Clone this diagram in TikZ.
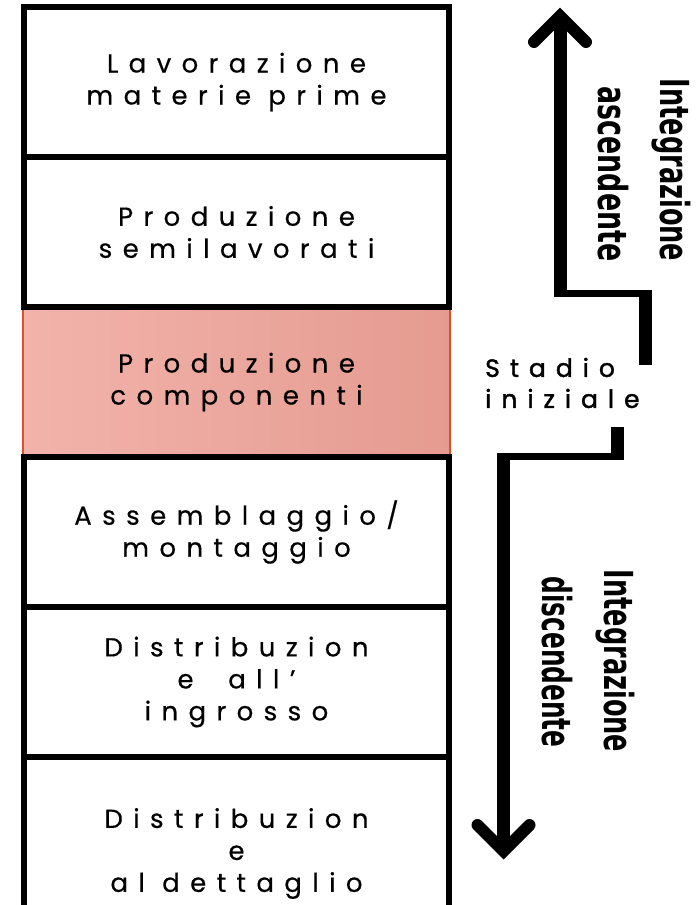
\documentclass[tikz,border=0pt]{standalone}
\usepackage{fontspec}
\usepackage{graphicx}
\newfontfamily\boxfont[LetterSpace=40,FakeBold=0.4]{Poppins}
\newfontfamily\stadiofont[LetterSpace=40,FakeBold=1.6]{Poppins}
\newfontfamily\rotfont{DejaVu Sans}
\definecolor{pinkL}{HTML}{F2B3AB}
\definecolor{pinkR}{HTML}{E59B90}
\definecolor{pinkEdge}{HTML}{D4532B}
\tikzset{
  stagebox/.style={draw=black, line width=6bp, minimum width=425bp, minimum height=150bp,
    inner sep=0pt, align=center, fill=white,
    font=\boxfont\fontsize{26bp}{32bp}\selectfont},
  pinkbox/.style={draw=pinkEdge, line width=2bp, minimum width=427bp, minimum height=148bp,
    inner sep=0pt, align=center, left color=pinkL, right color=pinkR,
    font=\boxfont\fontsize{26bp}{32bp}\selectfont},
  sidelbl/.style={align=left, anchor=west, inner sep=0pt, font=\stadiofont\fontsize{25bp}{31bp}\selectfont},
  rotlbl/.style={rotate=-90, anchor=base, inner sep=0pt, font=\rotfont\bfseries\fontsize{40bp}{48bp}\selectfont},
  vshaft/.style={line width=13bp, line cap=butt},
  hshaft/.style={line width=7bp, line cap=butt},
  barb/.style={line width=12bp, line cap=round, line join=miter},
}
\begin{document}
\begin{tikzpicture}[x=1bp, y=-1bp]
\clip (0,0) rectangle (700,905);
\fill[white] (0,0) rectangle (700,905);

% stages
\node[pinkbox] (b3) at (236.5,382) {Produzione\\componenti};
\node[stagebox] (b1) at (236.5,82) {Lavorazione\\materie prime};
\node[stagebox] (b2) at (236.5,232) {Produzione\\semilavorati};
\node[stagebox] (b4) at (236.5,532) {Assemblaggio/\\montaggio};
\node[stagebox] (b5) at (236.5,682) {Distribuzion\\e \ all’\\ingrosso};
\node[stagebox, minimum height=193bp] (b6) at (236.5,853.5) {Distribuzion\\e\\al dettaglio};

% start label
\node[sidelbl] (stadio) at (485,383) {Stadio\\iniziale};

% upward arrow
\coordinate (upStart) at (645,365);
\coordinate (upKneeA) at (645,290);
\coordinate (upHR) at (651.5,293.5);
\coordinate (upHL) at (553.5,293.5);
\coordinate (upKneeB) at (560,297);
\coordinate (upTip) at (560,16);
\coordinate (upArmL) at (534,42);
\coordinate (upArmR) at (586,42);
\draw[vshaft] (upStart) -- (upKneeA);
\draw[hshaft] (upHR) -- (upHL);
\draw[vshaft] (upKneeB) -- (upTip);
\draw[barb] (upArmL) -- (upTip) -- (upArmR);

% downward arrow
\coordinate (dnStart) at (617,427);
\coordinate (dnKneeA) at (617,460);
\coordinate (dnHR) at (623.5,456.5);
\coordinate (dnHL) at (497,456.5);
\coordinate (dnKneeB) at (503.5,453);
\coordinate (dnTip) at (503.5,851);
\coordinate (dnArmL) at (477.5,825);
\coordinate (dnArmR) at (529.5,825);
\draw[vshaft] (dnStart) -- (dnKneeA);
\draw[hshaft] (dnHR) -- (dnHL);
\draw[vshaft] (dnKneeB) -- (dnTip);
\draw[barb] (dnArmL) -- (dnTip) -- (dnArmR);

% rotated labels
\node[rotlbl] (upL1) at (660,170) {\scalebox{0.64}[1]{Integrazione}};
\node[rotlbl] (upL2) at (598,174) {\scalebox{0.67}[1]{ascendente}};
\node[rotlbl] (dnL1) at (604,661) {\scalebox{0.64}[1]{Integrazione}};
\node[rotlbl] (dnL2) at (542,662) {\scalebox{0.62}[1]{discendente}};
\end{tikzpicture}
\end{document}
